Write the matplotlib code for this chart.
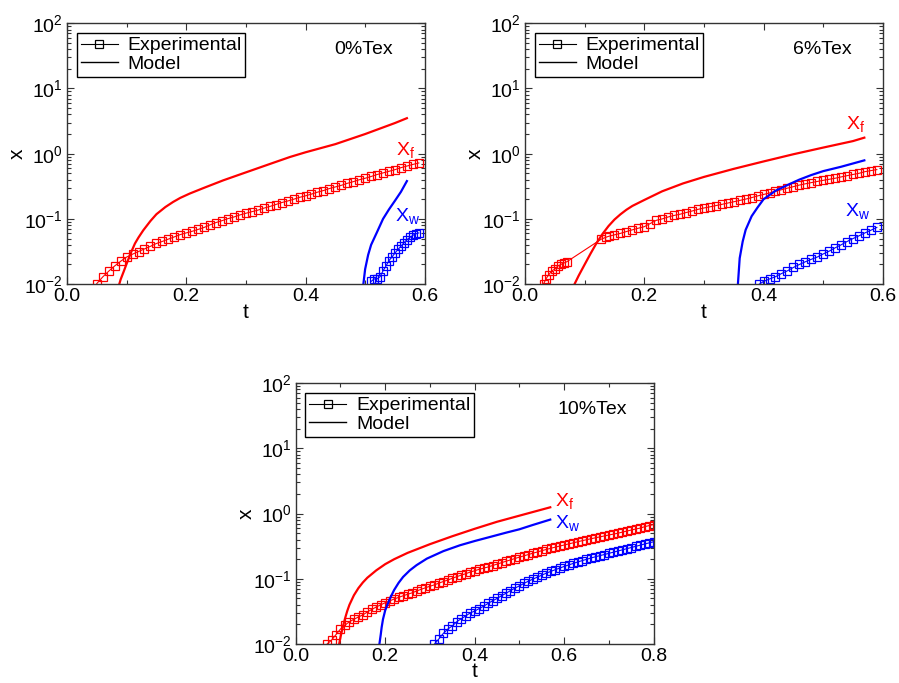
import numpy as np
import matplotlib
matplotlib.use("Agg")
import matplotlib.pyplot as plt
from matplotlib.lines import Line2D
from matplotlib.ticker import MultipleLocator, LogLocator, NullFormatter

plt.rcParams['font.family'] = ['Liberation Sans', 'DejaVu Sans']
plt.rcParams['mathtext.fontset'] = 'custom'
plt.rcParams['mathtext.rm'] = 'Liberation Sans'
plt.rcParams['mathtext.it'] = 'Liberation Sans:italic'

RED = '#ff0000'
BLUE = '#0000ff'

# ---- 0%Tex ----
t0_fexp = [0.05, 0.06, 0.07, 0.08, 0.09, 0.10, 0.11, 0.12, 0.13, 0.14, 0.15, 0.16, 0.17, 0.18,
           0.19, 0.20, 0.21, 0.22, 0.23, 0.24, 0.25, 0.26, 0.27, 0.28, 0.29, 0.30, 0.31, 0.32,
           0.33, 0.34, 0.35, 0.36, 0.37, 0.38, 0.39, 0.40, 0.41, 0.42, 0.43, 0.44, 0.45, 0.46,
           0.47, 0.48, 0.49, 0.50, 0.51, 0.52, 0.53, 0.54, 0.55, 0.56, 0.57, 0.58, 0.59]
x0_fexp = [0.0102, 0.0129, 0.0158, 0.019, 0.0224, 0.026, 0.0288, 0.0316, 0.0347, 0.038, 0.042,
           0.0452, 0.049, 0.053, 0.0575, 0.061, 0.0646, 0.069, 0.074, 0.081, 0.088, 0.094, 0.101,
           0.107, 0.115, 0.122, 0.129, 0.136, 0.146, 0.155, 0.166, 0.178, 0.188, 0.20, 0.214,
           0.226, 0.24, 0.257, 0.272, 0.292, 0.309, 0.327, 0.351, 0.372, 0.398, 0.42, 0.447,
           0.479, 0.507, 0.537, 0.569, 0.61, 0.646, 0.684, 0.72]
t0_wexp = [0.51, 0.515, 0.52, 0.525, 0.53, 0.535, 0.54, 0.545, 0.55, 0.555, 0.56, 0.565, 0.57,
           0.575, 0.58, 0.585, 0.59]
x0_wexp = [0.011, 0.012, 0.012, 0.013, 0.016, 0.019, 0.023, 0.026, 0.030, 0.034, 0.038, 0.043,
           0.048, 0.052, 0.056, 0.059, 0.061]
t0_fmod = [0.0877, 0.09, 0.095, 0.10, 0.107, 0.114, 0.12, 0.128, 0.14, 0.15, 0.165, 0.178, 0.19,
           0.206, 0.23, 0.262, 0.29, 0.318, 0.345, 0.374, 0.40, 0.45, 0.50, 0.55, 0.57]
x0_fmod = [0.010, 0.0118, 0.0155, 0.0205, 0.030, 0.042, 0.052, 0.067, 0.093, 0.118, 0.152, 0.182,
           0.21, 0.245, 0.30, 0.39, 0.48, 0.59, 0.72, 0.89, 1.05, 1.4, 2.0, 2.95, 3.5]
t0_wmod = [0.497, 0.50, 0.505, 0.51, 0.52, 0.53, 0.54, 0.55, 0.56, 0.57]
x0_wmod = [0.010, 0.017, 0.028, 0.040, 0.063, 0.10, 0.14, 0.19, 0.26, 0.38]

# ---- 6%Tex ----
t6_fexp = [0.031, 0.035, 0.04, 0.045, 0.05, 0.055, 0.06, 0.065, 0.07, 0.128, 0.135, 0.14, 0.15,
           0.16, 0.17, 0.18, 0.19, 0.20, 0.21, 0.22, 0.23, 0.24, 0.25, 0.26, 0.27, 0.28, 0.29,
           0.30, 0.31, 0.32, 0.33, 0.34, 0.35, 0.36, 0.37, 0.38, 0.39, 0.40, 0.41, 0.42, 0.43,
           0.44, 0.45, 0.46, 0.47, 0.48, 0.49, 0.50, 0.51, 0.52, 0.53, 0.54, 0.55, 0.56, 0.57,
           0.58, 0.59]
x6_fexp = [0.010, 0.012, 0.014, 0.016, 0.017, 0.019, 0.020, 0.021, 0.022, 0.049, 0.052, 0.054,
           0.057, 0.060, 0.064, 0.068, 0.072, 0.076, 0.085, 0.095, 0.10, 0.107, 0.113, 0.118,
           0.125, 0.132, 0.140, 0.147, 0.153, 0.160, 0.167, 0.175, 0.183, 0.192, 0.201, 0.212,
           0.225, 0.237, 0.250, 0.264, 0.280, 0.296, 0.312, 0.330, 0.345, 0.360, 0.375, 0.390,
           0.405, 0.42, 0.44, 0.46, 0.48, 0.50, 0.53, 0.55, 0.57]
t6_wexp = [0.393, 0.40, 0.41, 0.42, 0.43, 0.44, 0.45, 0.46, 0.47, 0.48, 0.49, 0.50, 0.51, 0.52,
           0.53, 0.54, 0.55, 0.56, 0.57, 0.58, 0.59]
x6_wexp = [0.010, 0.011, 0.012, 0.013, 0.0145, 0.016, 0.018, 0.020, 0.022, 0.024, 0.026, 0.029,
           0.032, 0.036, 0.040, 0.045, 0.050, 0.055, 0.061, 0.067, 0.074]
t6_fmod = [0.083, 0.09, 0.10, 0.11, 0.12, 0.13, 0.14, 0.15, 0.16, 0.17, 0.18, 0.20, 0.23, 0.265,
           0.30, 0.35, 0.40, 0.45, 0.50, 0.55, 0.569]
x6_fmod = [0.010, 0.0135, 0.020, 0.0295, 0.0427, 0.0589, 0.0776, 0.0977, 0.1175, 0.138, 0.158,
           0.195, 0.265, 0.35, 0.44, 0.585, 0.76, 0.98, 1.24, 1.56, 1.76]
t6_wmod = [0.357, 0.36, 0.365, 0.37, 0.38, 0.39, 0.40, 0.42, 0.44, 0.46, 0.48, 0.50, 0.53, 0.569]
x6_wmod = [0.010, 0.025, 0.045, 0.068, 0.11, 0.15, 0.20, 0.27, 0.33, 0.40, 0.47, 0.54, 0.63, 0.79]

# ---- 10%Tex ----
t10_fexp = [0.07, 0.08, 0.09, 0.10, 0.11, 0.12, 0.13, 0.14, 0.15, 0.16, 0.17, 0.18, 0.19, 0.20,
            0.21, 0.22, 0.23, 0.24, 0.25, 0.26, 0.27, 0.28, 0.29, 0.30, 0.31, 0.32, 0.33, 0.34,
            0.35, 0.36, 0.37, 0.38, 0.39, 0.40, 0.41, 0.42, 0.43, 0.44, 0.45, 0.46, 0.47, 0.48,
            0.49, 0.50, 0.51, 0.52, 0.53, 0.54, 0.55, 0.56, 0.57, 0.58, 0.59, 0.60, 0.61, 0.62,
            0.63, 0.64, 0.65, 0.66, 0.67, 0.68, 0.69, 0.70, 0.71, 0.72, 0.73, 0.74, 0.75, 0.76,
            0.77, 0.78, 0.79, 0.80]
x10_fexp = [0.010, 0.0115, 0.014, 0.017, 0.0195, 0.022, 0.024, 0.026, 0.028, 0.031, 0.034, 0.037,
            0.040, 0.043, 0.046, 0.049, 0.052, 0.055, 0.058, 0.061, 0.065, 0.069, 0.073, 0.077,
            0.081, 0.086, 0.091, 0.096, 0.102, 0.108, 0.114, 0.120, 0.127, 0.133, 0.140, 0.146,
            0.152, 0.160, 0.168, 0.177, 0.186, 0.195, 0.205, 0.215, 0.225, 0.236, 0.247, 0.258,
            0.270, 0.282, 0.294, 0.306, 0.318, 0.330, 0.343, 0.356, 0.370, 0.384, 0.398, 0.412,
            0.426, 0.44, 0.455, 0.47, 0.485, 0.50, 0.52, 0.54, 0.56, 0.58, 0.60, 0.63, 0.655, 0.68]
t10_wexp = [0.31, 0.32, 0.33, 0.34, 0.35, 0.36, 0.37, 0.38, 0.39, 0.40, 0.41, 0.42, 0.43, 0.44,
            0.45, 0.46, 0.47, 0.48, 0.49, 0.50, 0.51, 0.52, 0.53, 0.54, 0.55, 0.56, 0.57, 0.58,
            0.59, 0.60, 0.61, 0.62, 0.63, 0.64, 0.65, 0.66, 0.67, 0.68, 0.69, 0.70, 0.71, 0.72,
            0.73, 0.74, 0.75, 0.76, 0.77, 0.78, 0.79, 0.80]
x10_wexp = [0.010, 0.012, 0.0146, 0.017, 0.019, 0.022, 0.0245, 0.027, 0.030, 0.032, 0.035, 0.038,
            0.042, 0.046, 0.050, 0.055, 0.060, 0.066, 0.072, 0.078, 0.085, 0.092, 0.099, 0.106,
            0.114, 0.122, 0.130, 0.138, 0.146, 0.155, 0.163, 0.172, 0.181, 0.190, 0.199, 0.209,
            0.218, 0.227, 0.236, 0.246, 0.256, 0.267, 0.278, 0.290, 0.302, 0.315, 0.328, 0.342,
            0.356, 0.37]
t10_fmod = [0.097, 0.10, 0.105, 0.11, 0.115, 0.12, 0.13, 0.14, 0.15, 0.16, 0.18, 0.20, 0.22,
            0.25, 0.30, 0.35, 0.40, 0.45, 0.50, 0.569]
x10_fmod = [0.010, 0.0128, 0.018, 0.0245, 0.032, 0.040, 0.056, 0.072, 0.088, 0.104, 0.135, 0.168,
            0.20, 0.25, 0.34, 0.45, 0.585, 0.75, 0.93, 1.25]
t10_wmod = [0.187, 0.19, 0.192, 0.195, 0.20, 0.21, 0.22, 0.23, 0.24, 0.255, 0.27, 0.293, 0.33,
            0.367, 0.40, 0.435, 0.47, 0.50, 0.53, 0.569]
x10_wmod = [0.010, 0.014, 0.018, 0.024, 0.033, 0.049, 0.0676, 0.087, 0.107, 0.135, 0.162, 0.204,
            0.266, 0.327, 0.38, 0.44, 0.51, 0.575, 0.67, 0.81]

panels = [
    dict(pos=[0.0745, 0.584, 0.398, 0.382], xmax=0.6, tag='0%Tex',
         fexp=(t0_fexp, x0_fexp), wexp=(t0_wexp, x0_wexp),
         fmod=(t0_fmod, x0_fmod), wmod=(t0_wmod, x0_wmod),
         flab=(0.552, 1.15), wlab=(0.550, 0.11)),
    dict(pos=[0.584, 0.584, 0.398, 0.382], xmax=0.6, tag='6%Tex',
         fexp=(t6_fexp, x6_fexp), wexp=(t6_wexp, x6_wexp),
         fmod=(t6_fmod, x6_fmod), wmod=(t6_wmod, x6_wmod),
         flab=(0.539, 2.9), wlab=(0.536, 0.13)),
    dict(pos=[0.329, 0.057, 0.398, 0.382], xmax=0.8, tag='10%Tex',
         fexp=(t10_fexp, x10_fexp), wexp=(t10_wexp, x10_wexp),
         fmod=(t10_fmod, x10_fmod), wmod=(t10_wmod, x10_wmod),
         flab=(0.58, 1.55), wlab=(0.58, 0.72)),
]

fig = plt.figure(figsize=(8.99, 6.83), dpi=100)

for p in panels:
    ax = fig.add_axes(p['pos'])
    ax.set_yscale('log')
    for key, col in (('fexp', RED), ('wexp', BLUE)):
        t, x = p[key]
        ax.plot(t, x, '-', color=col, lw=0.8, marker='s', ms=5.5, mfc='none', mec=col, mew=0.9)
    for key, col in (('fmod', RED), ('wmod', BLUE)):
        t, x = p[key]
        ax.plot(t, x, '-', color=col, lw=1.6)

    ax.set_xlim(0, p['xmax'])
    ax.set_ylim(1e-2, 1e2)
    ax.xaxis.set_major_locator(MultipleLocator(0.2))
    ax.xaxis.set_minor_locator(MultipleLocator(0.1))
    ax.xaxis.set_major_formatter(plt.FuncFormatter(lambda v, _: '%.1f' % v))
    ax.yaxis.set_major_locator(LogLocator(base=10, numticks=10))
    ax.yaxis.set_minor_locator(LogLocator(base=10, subs=np.arange(2, 10), numticks=20))
    ax.yaxis.set_minor_formatter(NullFormatter())
    ax.tick_params(which='both', direction='in', top=True, right=True, labelsize=14,
                   width=0.8, color='#333333')
    ax.tick_params(which='major', length=5, pad=3)
    ax.tick_params(which='minor', length=3)
    for s in ax.spines.values():
        s.set_linewidth(1.0)
        s.set_color('#333333')

    ax.set_xlabel('t', fontsize=15, labelpad=-2)
    ax.set_ylabel('x', fontsize=15, labelpad=-2)

    ax.text(0.83, 0.90, p['tag'], transform=ax.transAxes, fontsize=14, ha='center', va='center')
    ax.text(p['flab'][0], p['flab'][1], r'X$_\mathregular{f}$', color=RED, fontsize=14,
            ha='left', va='center')
    ax.text(p['wlab'][0], p['wlab'][1], r'X$_\mathregular{w}$', color=BLUE, fontsize=14,
            ha='left', va='center')

    handles = [Line2D([], [], color='black', lw=0.8, marker='s', ms=6, mfc='none', mew=0.9),
               Line2D([], [], color='black', lw=1.0)]
    leg = ax.legend(handles, ['Experimental', 'Model'], loc='upper left', fontsize=14,
                    frameon=True, fancybox=False, edgecolor='black', framealpha=1,
                    handlelength=1.9, handletextpad=0.5, labelspacing=0.05, borderpad=0.2,
                    borderaxespad=0.5)
    leg.get_frame().set_linewidth(1.0)

fig.savefig('out.png', dpi=100)
